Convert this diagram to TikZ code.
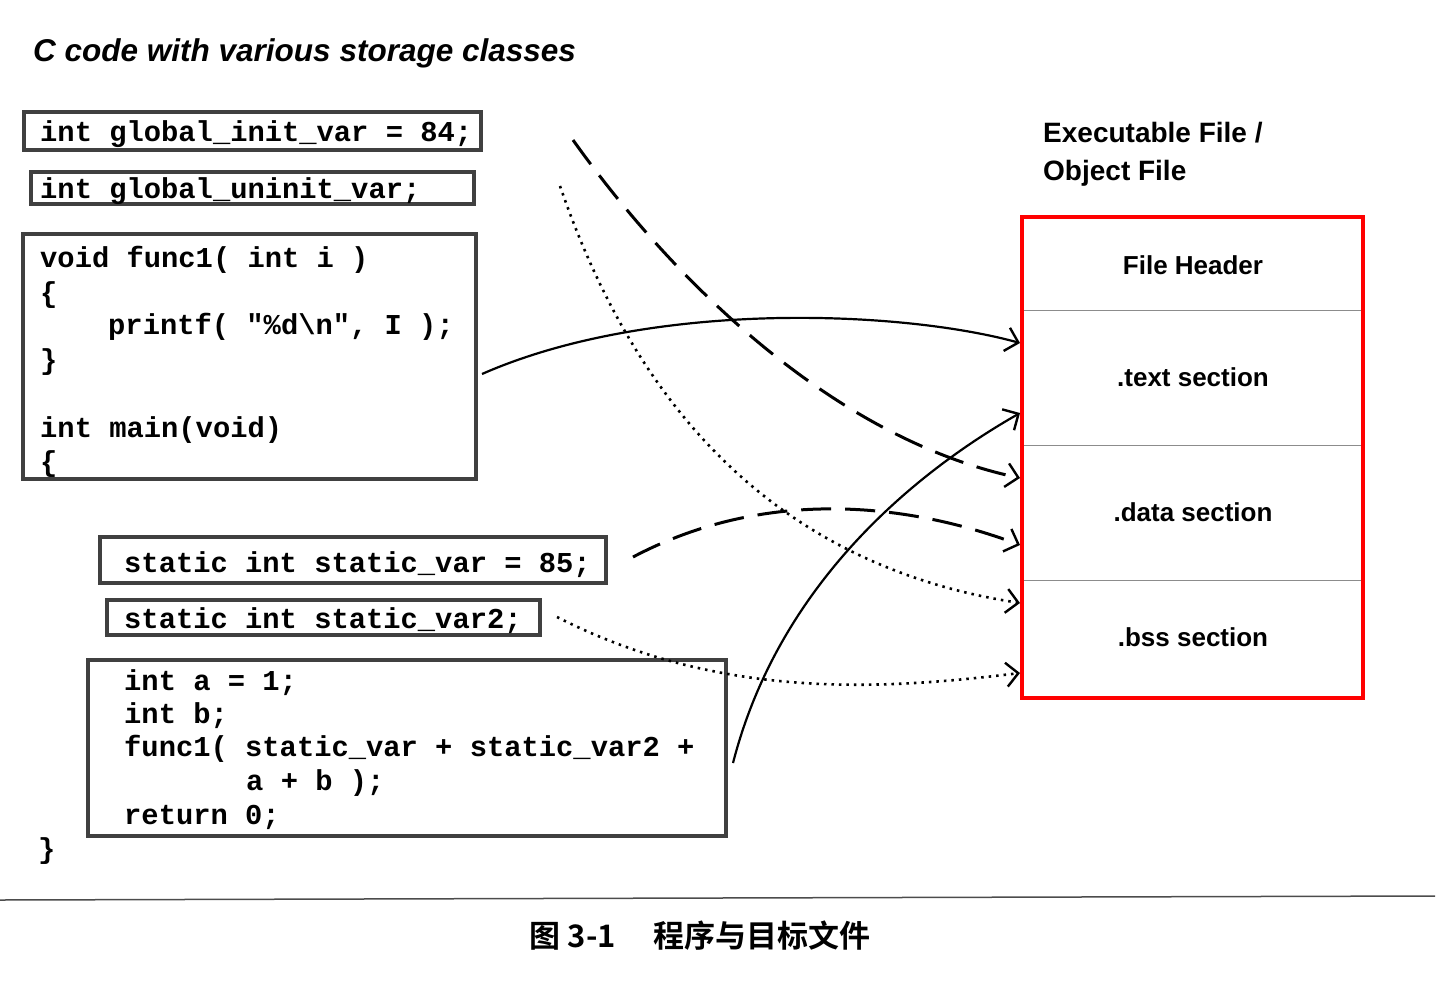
\documentclass[tikz,border=0pt]{standalone}
\usepackage{fontspec}
\setmainfont{Liberation Sans}
\setmonofont{Liberation Mono}
\newfontfamily\cjk{Noto Sans CJK SC}[BoldFont={* Bold}]
\usetikzlibrary{arrows.meta}
\begin{document}
\begin{tikzpicture}[x=1pt,y=-1pt,
  box/.style={draw=black!75,line width=3.5pt},
  code/.style={anchor=base west,font=\fontsize{28.8}{30}\selectfont\ttfamily\bfseries,inner sep=0pt},
  sec/.style={font=\fontsize{26}{28}\selectfont\bfseries,inner sep=0pt},
  arr/.style={line width=2.2pt,-{Straight Barb[length=12pt,width=24pt,line width=2.4pt]}},
  mydash/.style={dash pattern=on 30pt off 14pt,line width=3pt},
  mydot/.style={dash pattern=on 2.5pt off 5pt,line width=2.6pt},
  div/.style={draw=black!45,line width=1pt}]
\useasboundingbox (0,0) rectangle (1443,986);
\node[anchor=base west,font=\fontsize{31.5}{34}\selectfont\bfseries\itshape,inner sep=0pt] (title) at (33,61) {C code with various storage classes};
% boxes
\draw[box] (24,112) rectangle (481,150);
\node[code] (c1) at (40,141) {int global\_init\_var = 84;};
\draw[box] (31,172) rectangle (474,204);
\node[code] (c2) at (40,198) {int global\_uninit\_var;};
\draw[box] (23,234) rectangle (476,479);
\node[code] at (40,267) {void func1( int i )};
\node[code] at (40,302) {\{};
\node[code] at (108,334) {printf( "\%d\textbackslash n", I );};
\node[code] at (40,369) {\}};
\node[code] at (40,437) {int main(void)};
\node[code] at (40,471) {\{};
\draw[box] (100,537) rectangle (606,583);
\node[code] at (124,572) {static int static\_var = 85;};
\draw[box] (107,600) rectangle (540,635);
\node[code] at (124,628) {static int static\_var2;};
\draw[box] (88,660) rectangle (726,836);
\node[code] at (124,690) {int a = 1;};
\node[code] at (124,723) {int b;};
\node[code] at (124,756) {func1( static\_var + static\_var2 +};
\node[code] at (246,790) {a + b );};
\node[code] at (124,824) {return 0;};
\node[code] at (38,858) {\}};
\draw[black!70,line width=1.5pt] (0,900) -- (1435,896);
\node[font=\fontsize{31}{34}\selectfont\cjk\bfseries,inner sep=0pt] (cap) at (700,936) {图 3-1\hspace{1.2em}程序与目标文件};
% right
\node[anchor=base west,font=\fontsize{28}{30}\selectfont\bfseries,inner sep=0pt] (h1) at (1043,142) {Executable File /};
\node[anchor=base west,font=\fontsize{28}{30}\selectfont\bfseries,inner sep=0pt] (h2) at (1043,180) {Object File};
\draw[div] (1024,310) -- (1361,310);
\draw[div] (1024,445) -- (1361,445);
\draw[div] (1024,580) -- (1361,580);
\draw[red,line width=3.5pt] (1022,217) rectangle (1363,698);
\node[sec] (fh) at (1193,265) {File Header};
\node[sec] (ts) at (1193,377) {.text section};
\node[sec] (ds) at (1193,512) {.data section};
\node[sec] (bs) at (1193,637) {.bss section};
% endpoints
\coordinate (s1) at (573,140); \coordinate (e1) at (1020,478);
\coordinate (s2) at (560,186); \coordinate (e2) at (1020,603);
\coordinate (s3) at (482,374); \coordinate (e3) at (1020,343);
\coordinate (s4) at (733,763); \coordinate (e4) at (1020,413);
\coordinate (s5) at (633,557); \coordinate (e5) at (1020,545);
\coordinate (s6) at (557,617); \coordinate (e6) at (1020,673);
\draw[arr,mydash] (s1) .. controls (680,290) and (840,440) .. (e1);
\draw[arr,mydot] (s2) .. controls (620,360) and (740,560) .. (e2);
\draw[arr] (s3) .. controls (650,300) and (900,310) .. (e3);
\draw[arr] (s4) .. controls (780,580) and (920,470) .. (e4);
\draw[arr,mydash] (s5) .. controls (760,490) and (900,500) .. (e5);
\draw[arr,mydot] (s6) .. controls (720,700) and (880,690) .. (e6);
\end{tikzpicture}
\end{document}
